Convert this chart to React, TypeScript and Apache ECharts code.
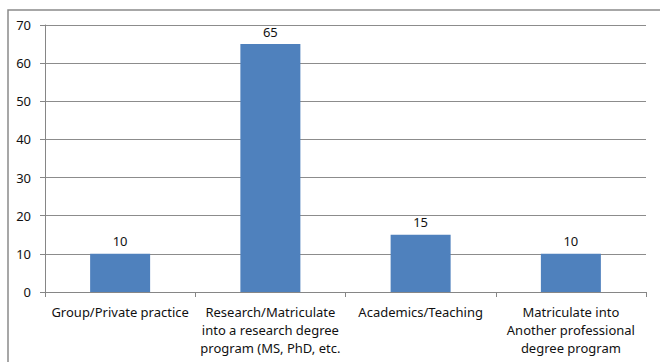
import React, { useEffect, useRef } from "react";
import * as echarts from "echarts";

const categories = [
  "Group/Private practice",
  "Research/Matriculate\ninto a research degree\nprogram (MS, PhD, etc.",
  "Academics/Teaching",
  "Matriculate into\nAnother professional\ndegree program",
];
const values = [10, 65, 15, 10];
const yMin = 0;
const yMax = 70;
const yStep = 10;

const FONT = "'Noto Sans', 'Liberation Sans', sans-serif";

export default function App() {
  const ref = useRef<HTMLDivElement>(null);
  useEffect(() => {
    if (!ref.current) return;
    const chart = echarts.init(ref.current, null, { renderer: "svg" });
    chart.setOption({
      animation: false,
      backgroundColor: "#ffffff",
      textStyle: { fontFamily: FONT },
      graphic: [
        {
          type: "rect",
          shape: { x: 8, y: 10, width: 700, height: 400 },
          style: { fill: "none", stroke: "#8a8a8a", lineWidth: 1.5 },
          silent: true,
        },
      ],
      grid: { left: 45, top: 25, right: 14, bottom: 70, containLabel: false },
      xAxis: {
        type: "category",
        data: categories,
        axisLine: { show: true, lineStyle: { color: "#868686", width: 1 } },
        axisTick: { show: true, length: 5, alignWithLabel: false, lineStyle: { color: "#868686" } },
        axisLabel: {
          interval: 0,
          color: "#111111",
          fontSize: 13,
          fontFamily: FONT,
          lineHeight: 18,
          margin: 11,
          align: "center",
        },
      },
      yAxis: {
        type: "value",
        min: yMin,
        max: yMax,
        interval: yStep,
        axisLine: { show: true, lineStyle: { color: "#868686", width: 1 } },
        axisTick: { show: true, length: 5, lineStyle: { color: "#868686" } },
        axisLabel: { color: "#111111", fontSize: 13, fontFamily: FONT, margin: 14 },
        splitLine: { show: true, lineStyle: { color: "#8c8c8c", width: 1 } },
      },
      series: [
        {
          type: "bar",
          data: values,
          barWidth: 60,
          itemStyle: { color: "#4F81BD" },
          label: {
            show: true,
            position: "top",
            distance: 6,
            color: "#111111",
            fontSize: 13,
            fontFamily: FONT,
          },
        },
      ],
    });
    return () => chart.dispose();
  }, []);
  return (
    <div
      ref={ref}
      style={{ position: "fixed", left: 0, top: 0, width: 660, height: 362 }}
    />
  );
}
